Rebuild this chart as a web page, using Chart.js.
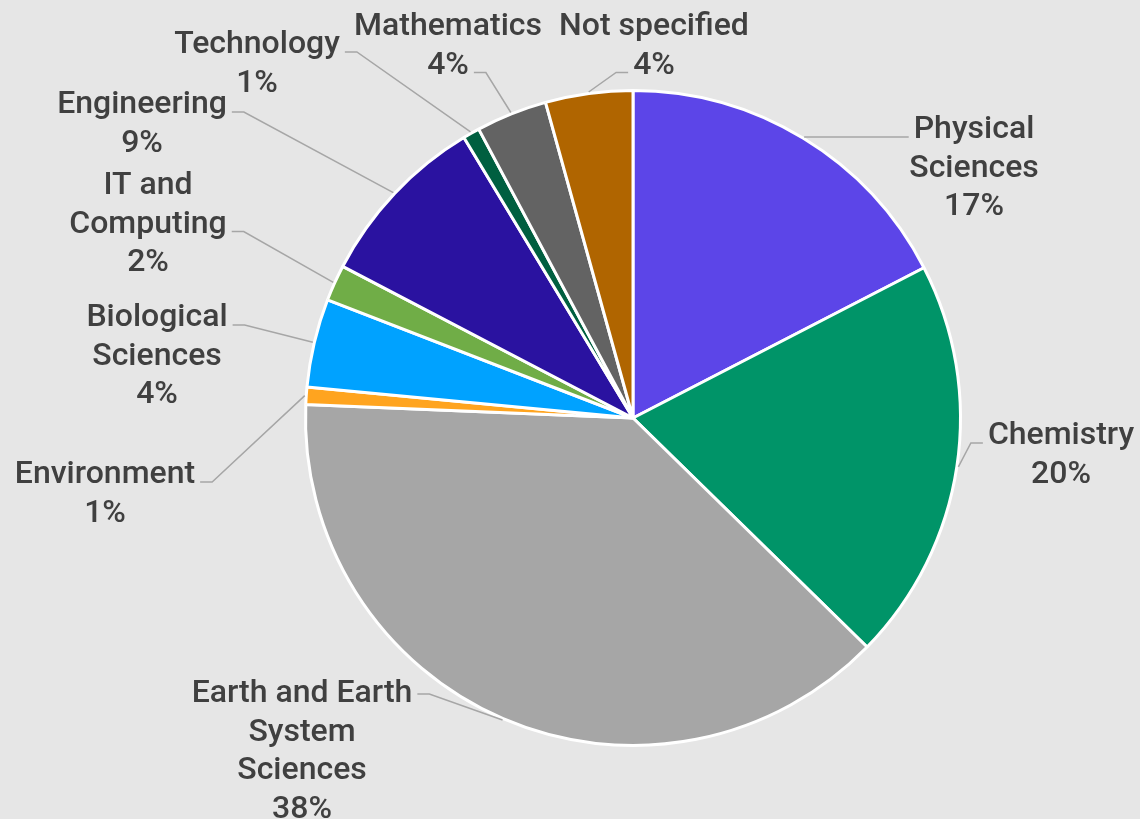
<!DOCTYPE html>
<html>
<head>
<meta charset="utf-8">
<script src="https://cdn.jsdelivr.net/npm/chart.js@4/dist/chart.umd.min.js"></script>
<style>
  html, body { margin: 0; padding: 0; background: #e6e6e6; }
  #wrap { width: 1140px; height: 819px; position: relative; }
</style>
</head>
<body>
<div id="wrap"><canvas id="c"></canvas></div>
<script>
// ---- data ----
const categories = [
  ['Physical', 'Sciences'],
  ['Chemistry'],
  ['Earth and Earth', 'System', 'Sciences'],
  ['Environment'],
  ['Biological', 'Sciences'],
  ['IT and', 'Computing'],
  ['Engineering'],
  ['Technology'],
  ['Mathematics'],
  ['Not specified']
];
const shares = [17.4, 19.9, 38.3, 0.86, 4.36, 1.78, 8.7, 0.83, 3.5, 4.3];
const sliceColors = ['#5c45e8', '#009468', '#a6a6a6', '#ffa41f', '#00a2ff',
                     '#70ad47', '#2a12a0', '#005f40', '#636363', '#b06500'];

// ---- label layout (text placement only) ----
// x: centre of text block, y: baseline of first line,
// side: which side of the text the leader attaches, line: which text line, dy: attach offset from that baseline
const labelLayout = [
  { x: 974,  y: 138, side: 'left',  line: 0, dy: -1 },
  { x: 1061, y: 444, side: 'left',  line: 0, dy: -1 },
  { x: 302,  y: 702, side: 'right', line: 0, dy: -8 },
  { x: 105,  y: 483, side: 'right', line: 0, dy: -1 },
  { x: 157,  y: 326, side: 'right', line: 0, dy: -1 },
  { x: 148,  y: 194, side: 'right', line: 1, dy: -1 },
  { x: 142,  y: 113, side: 'right', line: 0, dy: -1 },
  { x: 257,  y: 53,  side: 'right', line: 0, dy: -1 },
  { x: 448,  y: 35,  side: 'right', line: 1, dy: -1 },
  { x: 654,  y: 35,  side: 'left',  line: 1, dy: -1 }
];
const LINE_H = 38.5;
const FONT = '500 32px Roboto';

const total = shares.reduce((a, b) => a + b, 0);

const labelPlugin = {
  id: 'outLabels',
  afterDatasetsDraw(chart) {
    const ctx = chart.ctx;
    const meta = chart.getDatasetMeta(0);
    ctx.save();
    ctx.font = FONT;
    meta.data.forEach((arc, i) => {
      const p = arc.getProps(['x', 'y', 'startAngle', 'endAngle', 'outerRadius'], true);
      const mid = (p.startAngle + p.endAngle) / 2;
      const r = p.outerRadius + 1.5;
      const ax = p.x + Math.cos(mid) * r;
      const ay = p.y + Math.sin(mid) * r;
      const L = labelLayout[i];
      const lines = categories[i].concat([Math.round(shares[i] / total * 100) + '%']);
      // text
      ctx.fillStyle = '#404040';
      ctx.textAlign = 'center';
      ctx.textBaseline = 'alphabetic';
      lines.forEach((t, k) => ctx.fillText(t, L.x, L.y + k * LINE_H));
      // leader
      const w = ctx.measureText(lines[L.line]).width;
      const ty = L.y + L.line * LINE_H + L.dy;
      const tx = L.side === 'left' ? L.x - w / 2 - 5 : L.x + w / 2 + 5;
      const ex = L.side === 'left' ? tx - 12 : tx + 12;
      ctx.strokeStyle = '#a6a6a6';
      ctx.lineWidth = 1.5;
      ctx.beginPath();
      ctx.moveTo(ax, ay);
      ctx.lineTo(ex, ty);
      ctx.lineTo(tx, ty);
      ctx.stroke();
    });
    ctx.restore();
  }
};

new Chart(document.getElementById('c'), {
  type: 'pie',
  data: {
    labels: categories.map(c => c.join(' ')),
    datasets: [{
      data: shares,
      backgroundColor: sliceColors,
      borderColor: '#ffffff',
      borderWidth: 3,
      hoverOffset: 0,
      offset: 0
    }]
  },
  options: {
    responsive: true,
    maintainAspectRatio: false,
    animation: false,
    layout: { padding: { left: 304, right: 178, top: 89, bottom: 72 } },
    plugins: {
      legend: { display: false },
      tooltip: { enabled: false }
    }
  },
  plugins: [labelPlugin]
});
</script>
</body>
</html>
